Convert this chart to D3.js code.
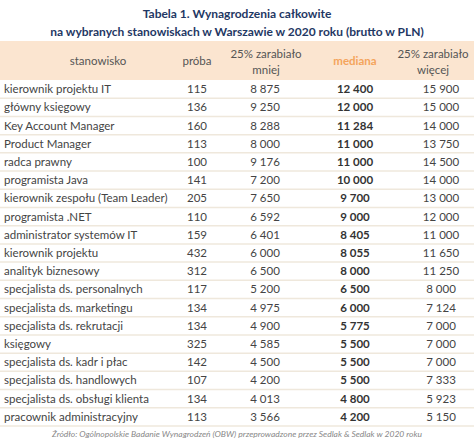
<!DOCTYPE html>
<html>
<head>
<meta charset="utf-8">
<script src="https://cdn.jsdelivr.net/npm/d3@7"></script>
<style>
  body { margin: 0; background: #fff; }
  text { font-family: Lato, "Open Sans", sans-serif; }
</style>
</head>
<body>
<script>
// table data:
var jobs = ["kierownik projektu IT","główny księgowy","Key Account Manager","Product Manager","radca prawny",
    "programista Java","kierownik zespołu  (Team Leader)","programista .NET","administrator systemów  IT",
    "kierownik projektu","analityk biznesowy","specjalista ds. personalnych","specjalista ds. marketingu",
    "specjalista ds. rekrutacji","księgowy","specjalista ds. kadr i płac","specjalista ds. handlowych",
    "specjalista ds. obsługi  klienta","pracownik administracyjny"];
var sample = [115,136,160,113,100,141,205,110,159,432,312,117,134,134,325,142,107,134,113];
var lowQ = [8875,9250,8288,8000,9176,7200,7650,6592,6401,6000,6500,5200,4975,4900,4585,4500,4200,4013,3566];
var median = [12400,12000,11284,11000,11000,10000,9700,9000,8405,8055,8000,6500,6000,5775,5500,5500,5500,4800,4200];
var highQ = [15900,15000,14000,13750,14500,14000,13000,12000,11000,11650,11250,8000,7124,7000,7000,7000,7333,5923,5150];

var width = 474, height = 441;
var svg = d3.select("body").append("svg").attr("width", width).attr("height", height);

// fmt with space thousands separator
var fmt = function (v) { return d3.format(",")(v).replace(/,/g, " "); };

// title
svg.append("text").attr("x", 237).attr("y", 18).attr("text-anchor", "middle")
    .attr("font-weight", "bold").attr("font-size", 12).attr("fill", "#1f3864")
    .text("Tabela 1. Wynagrodzenia całkowite");
svg.append("text").attr("x", 237).attr("y", 36).attr("text-anchor", "middle")
    .attr("font-weight", "bold").attr("font-size", 12).attr("fill", "#1f3864")
    .text("na wybranych stanowiskach w Warszawie w 2020 roku (brutto w PLN)");

// header band
var headTop = 41, headBottom = 80;
svg.append("rect").attr("x", 0).attr("y", headTop).attr("width", width)
    .attr("height", headBottom - headTop).attr("fill", "#fbe5d0");

var head = svg.append("g").attr("font-size", 11.5).attr("fill", "#555").attr("text-anchor", "middle");
head.append("text").attr("x", 98).attr("y", 65).text("stanowisko");
head.append("text").attr("x", 197).attr("y", 65).text("próba");
head.append("text").attr("x", 266).attr("y", 58).text("25% zarabiało");
head.append("text").attr("x", 266).attr("y", 74).text("mniej");
head.append("text").attr("x", 355).attr("y", 65).attr("fill", "#f4a45c").attr("font-weight", "bold").text("mediana");
head.append("text").attr("x", 433).attr("y", 58).text("25% zarabiało");
head.append("text").attr("x", 433).attr("y", 74).text("więcej");

// rows
var y = d3.scaleBand().domain(d3.range(jobs.length)).range([headBottom, 426]);

var rows = svg.selectAll(".row").data(jobs).enter().append("g")
    .attr("class", "row")
    .attr("transform", function (d, i) { return "translate(0," + y(i) + ")"; })
    .attr("font-size", 11.5).attr("fill", "#444");

rows.append("line").attr("x1", 0).attr("x2", width)
    .attr("y1", y.bandwidth()).attr("y2", y.bandwidth())
    .attr("stroke", "#efe8dc").attr("stroke-width", 1.5);

var ty = y.bandwidth() / 2 + 4;
rows.append("text").attr("x", 4).attr("y", ty).text(function (d) { return d; });
rows.append("text").attr("x", 207).attr("y", ty).attr("text-anchor", "end")
    .text(function (d, i) { return sample[i]; });
rows.append("text").attr("x", 265).attr("y", ty).attr("text-anchor", "middle")
    .text(function (d, i) { return fmt(lowQ[i]); });
rows.append("text").attr("x", 355).attr("y", ty).attr("text-anchor", "middle")
    .attr("font-weight", "bold").attr("fill", "#333")
    .text(function (d, i) { return fmt(median[i]); });
rows.append("text").attr("x", 441).attr("y", ty).attr("text-anchor", "middle")
    .text(function (d, i) { return fmt(highQ[i]); });

// source
svg.append("text").attr("x", 237).attr("y", 437).attr("text-anchor", "middle")
    .attr("font-size", 8.5).attr("font-style", "italic").attr("fill", "#888")
    .text("Źródło: Ogólnopolskie Badanie Wynagrodzeń (OBW) przeprowadzone  przez  Sedlak & Sedlak w 2020 roku");
</script>
</body>
</html>
